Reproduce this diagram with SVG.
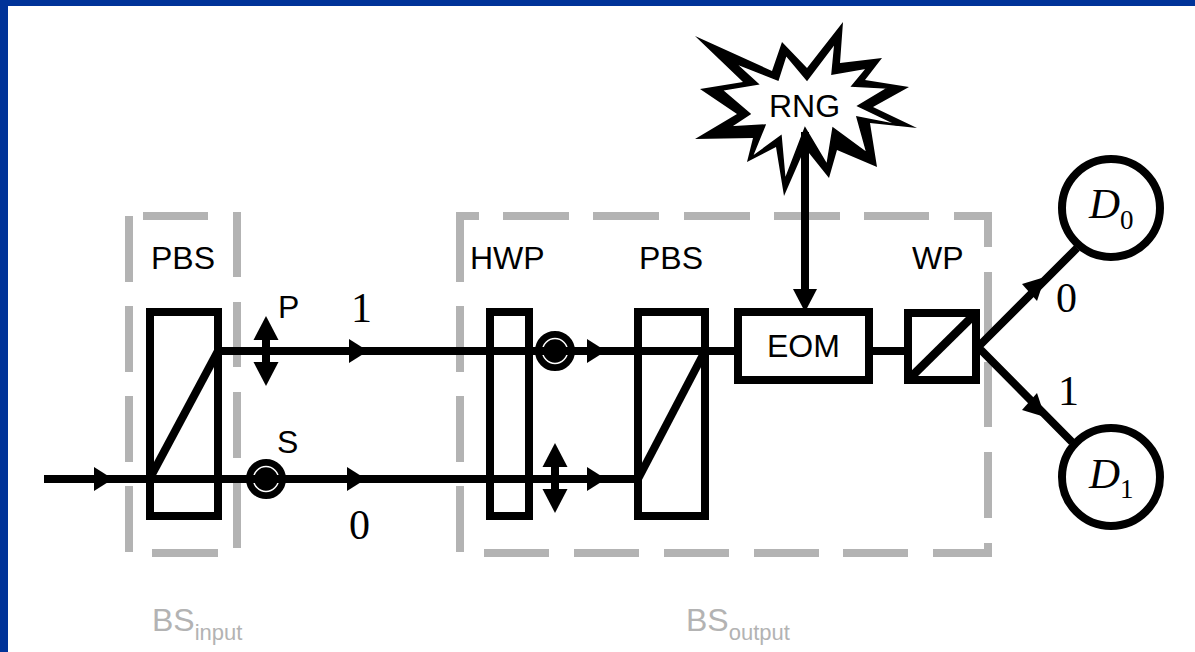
<svg xmlns="http://www.w3.org/2000/svg" width="1195" height="652" viewBox="0 0 1195 652">
<defs>
<style>
.k{fill:none;stroke:#000;stroke-width:8}
.g{fill:none;stroke:#b3b3b3;stroke-width:8;stroke-linejoin:miter}
text{font-family:"Liberation Sans",Arial,sans-serif;font-size:32px;fill:#000}
.t{font-family:"Liberation Serif","Times New Roman",serif;font-size:42px}
.i{font-family:"Liberation Serif","Times New Roman",serif;font-size:43px;font-style:italic}
.s{font-family:"Liberation Serif","Times New Roman",serif;font-size:27px;font-style:normal}
.gt{fill:#b3b3b3}
.gs{fill:#b3b3b3;font-size:22px}
</style>
<polygon id="head" points="-19,-12 0,0 -19,12"/>
<g id="dbl"><polygon points="0,-35 12.500,-11 -12.500,-11"/><polygon points="0,35 12.500,11 -12.500,11"/><rect x="-4" y="-12" width="8" height="24"/></g>
<g id="dot"><circle r="17" fill="#000" stroke="#000" stroke-width="6"/><circle r="12.500" fill="none" stroke="#fff" stroke-width="1.500"/><rect x="-16" y="-4" width="32" height="8"/></g>
</defs>
<rect width="1195" height="652" fill="#fff"/>
<rect width="1195" height="6" fill="#003399"/>
<rect width="8" height="652" fill="#003399"/>
<g id="bs-input-frame">
<path class="g" d="M129 216V282M129 306V372M129 396V462M129 486V552M237 212V277M237 302V367M237 392V458M237 482V548M143 216H208M152 553H218"/>
</g>
<g id="bs-output-frame">
<path class="g" d="M479 216H460V282M460 306V372M460 396V462M460 486V552M503 216H569M593 216H659M684 216H750M774 216H840M864 216H929M954 216H988V247M988 272V338M988 362V427M988 452V518M988 543V553H933M908 553H843M819 553H754M729 553H664M639 553H574M549 553H484"/>
</g>
<g id="rng">
<polygon fill="#000" points="695,36 772,71 782,42 807,68 843,22 840,63 882,58 865,80 909,87 873,107 917,128 870,123 877,167 837,150 829,178 805,148 784,196 776,147 747,162 753,138 695,139 737,114 700,89 743,82"/>
<polygon fill="#fff" stroke="#000" stroke-width="1.500" points="735,63 778,80 786,55 807,80 835,43 832,74 867,68 852,86 888,88 858,106 898,125 857,117 867,153 833,128 827,165 805,128 785,180 781,136 752,157 765,125 730,127 750,114 722,90 758,84"/>
<text x="769" y="117">RNG</text>
</g>
<g id="connectors">
<path class="k" d="M44 479H637M218 351H735M873 351H906M805 132V295M978 347L1077 248M978 347L1072 442"/>
<use href="#head" x="113" y="479"/>
<use href="#head" x="368" y="351"/>
<use href="#head" x="366" y="479"/>
<use href="#head" x="606" y="351"/>
<use href="#head" x="606" y="479"/>
<polygon points="805,312 793,289 817,289"/>
<polygon points="1045,277 1022,284 1037,301"/>
<polygon points="1045,417 1022,410 1037,393"/>
</g>
<g id="pbs-input">
<rect x="150" y="312" width="68" height="204" class="k"/>
<path class="k" d="M150 478L218 351"/>
<text x="151" y="269">PBS</text>
</g>
<g id="pol-p"><use href="#dbl" x="266" y="351"/><text x="278" y="318">P</text></g>
<g id="pol-s"><use href="#dot" x="266" y="479"/><text x="277" y="453">S</text></g>
<g id="label-1"><text class="t" x="351" y="322">1</text></g>
<g id="label-0"><text class="t" x="349" y="539">0</text></g>
<g id="hwp">
<rect x="490" y="312" width="39" height="204" class="k"/>
<text x="470" y="269">HWP</text>
</g>
<g id="pol-dot-top"><use href="#dot" x="555" y="351"/></g>
<g id="pol-arrow-bottom"><use href="#dbl" x="555" y="478"/></g>
<g id="pbs-output">
<rect x="638" y="312" width="67" height="204" class="k"/>
<path class="k" d="M638 479L705 351"/>
<text x="639" y="269">PBS</text>
</g>
<g id="eom">
<rect x="738" y="312" width="131" height="68" fill="#fff" stroke="#000" stroke-width="8"/>
<text x="767" y="357">EOM</text>
</g>
<g id="wp">
<rect x="908" y="313" width="68" height="67" class="k"/>
<path class="k" d="M908 380L976 313" style="stroke-width:8.500"/>
<text x="912" y="269">WP</text>
</g>
<g id="d0">
<circle cx="1111" cy="208" r="49" fill="#fff" stroke="#000" stroke-width="8"/>
<text class="i" x="1089" y="218">D<tspan class="s" dy="11">0</tspan></text>
</g>
<g id="d1">
<circle cx="1111" cy="477" r="49" fill="#fff" stroke="#000" stroke-width="8"/>
<text class="i" x="1089" y="488">D<tspan class="s" dy="10">1</tspan></text>
</g>
<g id="label-out-0"><text class="t" x="1056" y="312">0</text></g>
<g id="label-out-1"><text class="t" x="1058" y="405">1</text></g>
<g id="bs-input-label"><text class="gt" x="152" y="631">BS<tspan class="gs" dy="9">input</tspan></text></g>
<g id="bs-output-label"><text class="gt" x="686" y="631">BS<tspan class="gs" dy="9">output</tspan></text></g>
</svg>
